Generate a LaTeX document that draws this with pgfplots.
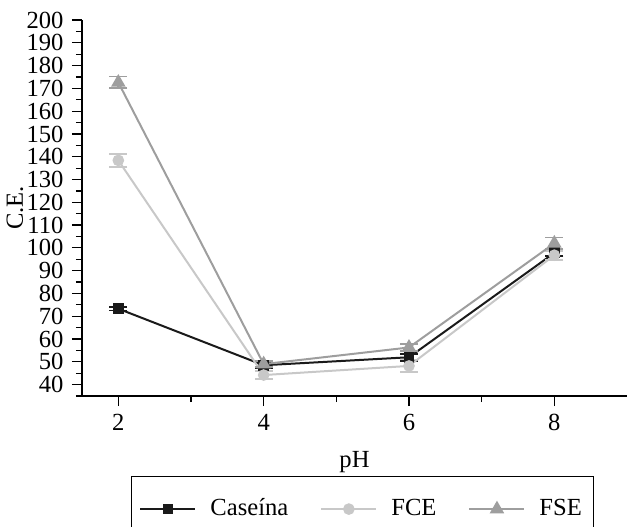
\documentclass[border=0pt]{standalone}
\usepackage{fontspec}
\setmainfont{Liberation Serif}
\usepackage{pgfplots}
\pgfplotsset{compat=1.18}
\definecolor{cas}{HTML}{1A1A1A}
\definecolor{fce}{HTML}{C8C8C8}
\definecolor{fse}{HTML}{9E9E9E}
\begin{document}
\fontsize{12.3}{14}\selectfont
\begin{tikzpicture}
\begin{axis}[
    scale only axis,
    width=272.5pt,
    height=188pt,
    xmin=1.5, xmax=9,
    ymin=35, ymax=200,
    axis x line*=bottom,
    axis y line*=left,
    axis line style={line width=0.6pt, -},
    xtick={2,4,6,8},
    minor xtick={3,5,7},
    ytick={40,50,...,200},
    minor ytick={35,45,...,195},
    tick align=outside,
    major tick length=5pt,
    minor tick length=3pt,
    tick style={line width=0.6pt, black},
    xlabel={pH},
    ylabel={C.E.},
    xlabel style={at={(axis description cs:0.5,-0.175)}, anchor=center},
    ylabel style={at={(axis description cs:-0.123,0.5)}, anchor=center},
    /pgf/number format/assume math mode=true,
    ticklabel style={font=\fontsize{12.3}{14}\selectfont},
    legend columns=3,
    legend style={at={(axis description cs:0.515,-0.213)}, anchor=north,
        draw=black, line width=0.6pt, inner xsep=4pt, inner ysep=9pt,
        font=\fontsize{12.3}{14}\selectfont,
        /tikz/every odd column/.append style={column sep=5pt},
        /tikz/every even column/.append style={column sep=14pt}},
    legend image code/.code={
        \draw[mark repeat=2, mark phase=2, #1]
        plot coordinates {(0pt,0pt) (13.75pt,0pt) (27.5pt,0pt)};},
    every axis plot/.append style={line width=1pt},
    error bars/error bar style={line width=0.9pt},
    error bars/error mark options={rotate=90, mark size=4.5pt, line width=0.9pt},
]
\addplot[color=cas, mark=square*, mark size=2.2pt,
    error bars/.cd, y dir=both, y explicit]
    coordinates {(2,73.3) +- (0,0.8) (4,48.5) +- (0,1.2) (6,52.0) +- (0,1.5) (8,97.8) +- (0,1.5)};
\addplot[color=fce, mark=*, mark size=2.4pt,
    error bars/.cd, y dir=both, y explicit]
    coordinates {(2,138.4) +- (0,2.9) (4,44.2) +- (0,1.6) (6,48.2) +- (0,2.8) (8,96.8) +- (0,2.0)};
\addplot[color=fse, mark=triangle*, mark size=3.2pt,
    error bars/.cd, y dir=both, y explicit]
    coordinates {(2,172.6) +- (0,2.6) (4,49.0) +- (0,1.4) (6,56.3) +- (0,1.6) (8,102.0) +- (0,2.6)};
\legend{Caseína,FCE,FSE}
\coordinate (O) at (rel axis cs:0,0);
\end{axis}
\pgfresetboundingbox
\path ([xshift=-41pt,yshift=-65pt]O) rectangle ([xshift=272.5pt,yshift=198pt]O);
\end{tikzpicture}
\end{document}
